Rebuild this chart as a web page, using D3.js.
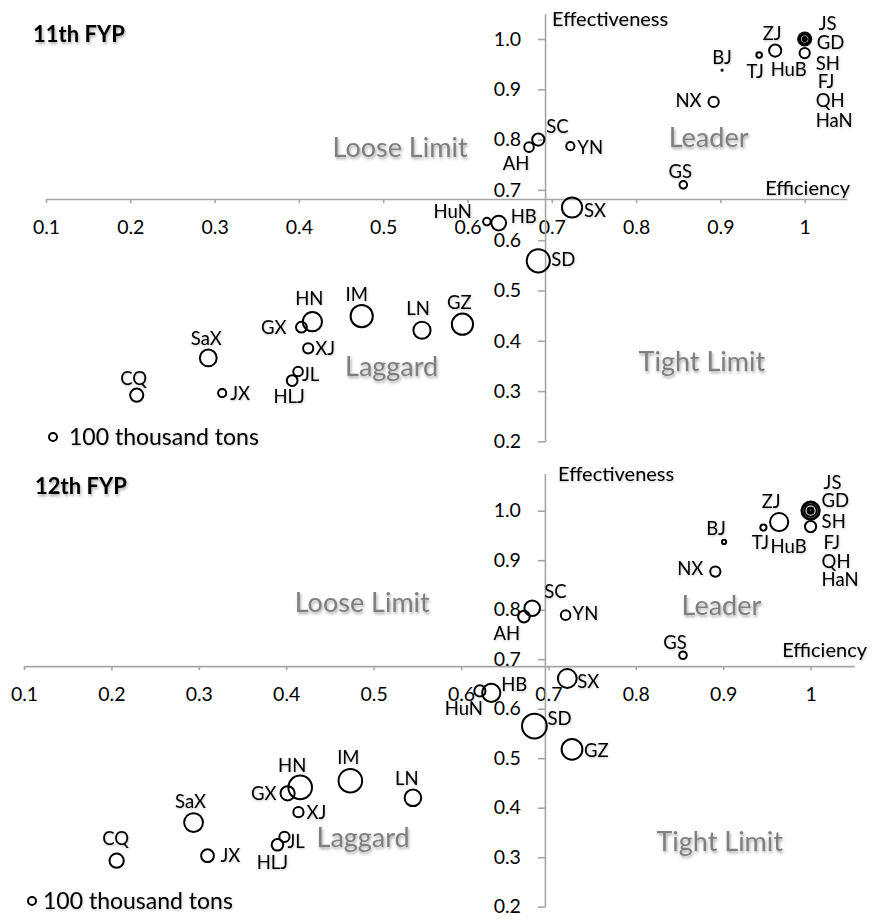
<!DOCTYPE html>
<html>
<head>
<meta charset="utf-8">
<title>FYP efficiency vs effectiveness</title>
<script src="https://cdn.jsdelivr.net/npm/d3@7"></script>
<style>
  body { margin: 0; background: #fff; }
  svg { font-family: Lato, 'Open Sans', sans-serif; }
  .axis path, .axis line { stroke: #a6a6a6; stroke-width: 1.6; }
  .axis text { font-size: 19.5px; fill: #000; font-family: Lato, sans-serif; }
  .bubble { fill: none; stroke: #000; stroke-width: 2; }
  .plabel { font-size: 18.5px; fill: #000; }
  .quad { font-size: 27px; fill: #7f7f7f; }
  .title { font-size: 22px; font-weight: bold; }
  .atitle { font-size: 20px; }
  .legend { font-size: 23px; }
</style>
</head>
<body>
<script>
// provinces, same order in every array
var provinces = ["JS","GD","SH","FJ","QH","HaN","HuB","ZJ","TJ","BJ","NX","SC","AH","YN","GS",
                 "SX","HuN","HB","SD","GZ","IM","LN","HN","GX","XJ","JL","HLJ","SaX","JX","CQ"];

// 11th FYP: efficiency (x), effectiveness (y), COD emission in 100 thousand tons (size)
var eff11 = [1.0,1.0,1.0,1.0,1.0,1.0,1.0,0.965,0.946,0.902,0.892,0.684,0.673,0.722,0.856,
             0.724,0.623,0.637,0.684,0.594,0.4745,0.546,0.416,0.403,0.411,0.399,0.392,0.2925,0.309,0.2076];
var ctl11 = [1.0,1.0,1.0,1.0,1.0,1.0,0.972,0.977,0.968,0.938,0.875,0.80,0.785,0.787,0.71,
             0.665,0.637,0.634,0.559,0.433,0.449,0.421,0.438,0.427,0.385,0.339,0.321,0.366,0.296,0.292];
var cod11 = [2.72,1.96,0.28,1.32,0.02,0.16,1.63,2.33,0.49,0.02,1.63,2.33,1.44,1.05,0.9,
             6.38,0.9,3.42,8.41,7.02,7.7,4.62,5.76,1.82,1.63,1.44,1.82,4.41,1.05,2.72];

// 12th FYP
var eff12 = [1.0,1.0,1.0,1.0,1.0,1.0,1.0,0.964,0.946,0.901,0.891,0.6815,0.672,0.7197,0.854,
             0.7216,0.6216,0.6346,0.684,0.727,0.4734,0.545,0.416,0.4016,0.414,0.398,0.390,0.294,0.31,0.206];
var ctl12 = [1.0,1.0,1.0,1.0,1.0,1.0,0.968,0.977,0.966,0.937,0.877,0.803,0.786,0.789,0.708,
             0.661,0.636,0.632,0.565,0.518,0.4545,0.42,0.441,0.429,0.391,0.341,0.325,0.37,0.303,0.293];
var cod12 = [5.18,4.1,0.6,2.33,0.02,0.28,1.96,5.18,0.6,0.28,1.63,3.8,2.1,1.44,0.9,
             5.52,1.96,5.18,9.61,6.76,8.7,4.31,8.7,3.15,1.63,1.63,2.1,5.52,2.56,3.15];

var xTicks = [0.1,0.2,0.3,0.4,0.5,0.6,0.7,0.8,0.9,1.0];
var yTicks = [0.2,0.3,0.4,0.5,0.6,0.7,0.8,0.9,1.0];
var quadNames = ["Loose Limit","Leader","Laggard","Tight Limit"];
var legendText = "100 thousand tons";

// label placement: [dx, dy, anchor]
var spots11 = {
  JS:[14,-15,'start'], GD:[12,4,'start'], SH:[11,25,'start'], FJ:[13,43,'start'], QH:[11,62,'start'], HaN:[11,82,'start'],
  HuB:[-16,16,'middle'], ZJ:[-3,-17,'middle'], TJ:[-4,16,'middle'], BJ:[0,-13,'middle'], NX:[-12,-1,'end'],
  SC:[8,-13,'start'], AH:[-13,16,'middle'], YN:[7,1,'start'], GS:[-3,-13,'middle'], SX:[12,3,'start'],
  HuN:[-15,-10,'end'], HB:[12,-7,'start'], SD:[13,-1,'start'], GZ:[-3,-22,'middle'], IM:[-5,-22,'middle'],
  LN:[-4,-22,'middle'], HN:[-3,-23,'middle'], GX:[-15,0,'end'], XJ:[7,0,'start'], JL:[4,3,'start'],
  HLJ:[-3,16,'middle'], SaX:[-2,-19,'middle'], JX:[8,0,'start'], CQ:[-3,-17,'middle']
};
var spots12 = {
  JS:[13,-28,'start'], GD:[11,-10,'start'], SH:[11,11,'start'], FJ:[13,32,'start'], QH:[11,51,'start'], HaN:[11,69,'start'],
  HuB:[-22,20,'middle'], ZJ:[-8,-21,'middle'], TJ:[-3,15,'middle'], BJ:[-8,-13,'middle'], NX:[-12,-3,'end'],
  SC:[12,-17,'start'], AH:[-17,17,'middle'], YN:[7,-2,'start'], GS:[-8,-13,'middle'], SX:[10,3,'start'],
  HuN:[-16,18,'middle'], HB:[10,-8,'start'], SD:[13,-8,'start'], GZ:[12,1,'start'], IM:[-2,-23,'middle'],
  LN:[-6,-19,'middle'], HN:[-8,-22,'middle'], GX:[-11,0,'end'], XJ:[8,0,'start'], JL:[3,5,'start'],
  HLJ:[-5,18,'middle'], SaX:[-3,-21,'middle'], JX:[13,0,'start'], CQ:[-1,-22,'middle']
};

var panels = [
  { title: "11th FYP", eff: eff11, ctl: ctl11, cod: cod11, spots: spots11,
    xPx: [46, 804.7], yPx: [441.4, 39], xMax: 1.05, yMax: 1.05, xCross: 0.682, yCross: 0.692,
    quads: [[0.52,0.785],[0.886,0.805],[0.51,0.348],[0.878,0.358]],
    titlePos: [33, 34], effPos: [552, 19], efcPos: [850, 188], legend: [53, 437, 69] },
  { title: "12th FYP", eff: eff12, ctl: ctl12, cod: cod12, spots: spots12,
    xPx: [24, 810.6], yPx: [906.7, 510.7], xMax: 1.05, yMax: 1.075, xCross: 0.686, yCross: 0.696,
    quads: [[0.487,0.814],[0.898,0.808],[0.488,0.339],[0.896,0.331]],
    titlePos: [35, 486], effPos: [558, 474], efcPos: [867, 650], legend: [32, 901, 43] }
];

var svg = d3.select("body").append("svg").attr("width", 873).attr("height", 922);
var defs = svg.append("defs");
defs.append("filter").attr("id", "shadow").attr("x", "-20%").attr("y", "-30%").attr("width", "140%").attr("height", "180%")
  .append("feDropShadow").attr("dx", 1).attr("dy", 2).attr("stdDeviation", 1.6)
  .attr("flood-color", "#000").attr("flood-opacity", 0.35);
defs.append("filter").attr("id", "soft").attr("x", "-20%").attr("y", "-30%").attr("width", "140%").attr("height", "180%")
  .append("feDropShadow").attr("dx", 0.5).attr("dy", 1).attr("stdDeviation", 0.8)
  .attr("flood-color", "#000").attr("flood-opacity", 0.25);

var r = d3.scaleSqrt().domain([0, 1]).range([0, 4]);
var fmtX = function(d){ return d === 1 ? "1" : d3.format(".1f")(d); };

panels.forEach(function(p){
  var x0 = d3.scaleLinear().domain([0.1, 1.0]).range(p.xPx);
  var y0 = d3.scaleLinear().domain([0.2, 1.0]).range(p.yPx);
  var x = d3.scaleLinear().domain([0.1, p.xMax]).range([x0(0.1), x0(p.xMax)]);
  var y = d3.scaleLinear().domain([0.2, p.yMax]).range([y0(0.2), y0(p.yMax)]);
  var g = svg.append("g");

  g.append("g").attr("class", "axis")
    .attr("transform", "translate(0," + y(p.xCross) + ")")
    .call(d3.axisBottom(x).tickValues(xTicks).tickSize(4).tickSizeOuter(0).tickPadding(17).tickFormat(fmtX));
  g.append("g").attr("class", "axis")
    .attr("transform", "translate(" + x(p.yCross) + ",0)")
    .call(d3.axisLeft(y).tickValues(yTicks).tickSize(7).tickSizeOuter(0).tickPadding(17).tickFormat(d3.format(".1f")));

  // quadrant names
  g.selectAll(".quad").data(p.quads).enter().append("text")
    .attr("class", "quad").attr("filter", "url(#shadow)")
    .attr("x", function(d){ return x(d[0]); }).attr("y", function(d){ return y(d[1]); })
    .attr("dy", "0.35em").attr("text-anchor", "middle")
    .text(function(d, i){ return quadNames[i]; });

  var pts = provinces.map(function(name, i){
    return { name: name, ex: p.eff[i], ey: p.ctl[i], s: p.cod[i] };
  });

  g.selectAll(".bubble").data(pts).enter().append("circle")
    .attr("class", "bubble")
    .attr("cx", function(d){ return x(d.ex); })
    .attr("cy", function(d){ return y(d.ey); })
    .attr("r", function(d){ return r(d.s); });

  g.selectAll(".plabel").data(pts).enter().append("text")
    .attr("class", "plabel").attr("filter", "url(#soft)")
    .attr("x", function(d){ return x(d.ex) + p.spots[d.name][0]; })
    .attr("y", function(d){ return y(d.ey) + p.spots[d.name][1]; })
    .attr("dy", "0.35em")
    .attr("text-anchor", function(d){ return p.spots[d.name][2]; })
    .text(function(d){ return d.name; });

  g.append("text").attr("class", "title").attr("filter", "url(#shadow)")
    .attr("x", p.titlePos[0]).attr("y", p.titlePos[1]).attr("dy", "0.35em").text(p.title);
  g.append("text").attr("class", "atitle").attr("filter", "url(#soft)")
    .attr("x", p.effPos[0]).attr("y", p.effPos[1]).attr("dy", "0.35em").text("Effectiveness");
  g.append("text").attr("class", "atitle").attr("filter", "url(#soft)")
    .attr("x", p.efcPos[0]).attr("y", p.efcPos[1]).attr("dy", "0.35em").attr("text-anchor", "end").text("Efficiency");

  g.append("circle").attr("class", "bubble").attr("cx", p.legend[0]).attr("cy", p.legend[1]).attr("r", r(1));
  g.append("text").attr("class", "legend").attr("filter", "url(#soft)")
    .attr("x", p.legend[2]).attr("y", p.legend[1]).attr("dy", "0.35em").text(legendText);
});
</script>
</body>
</html>
